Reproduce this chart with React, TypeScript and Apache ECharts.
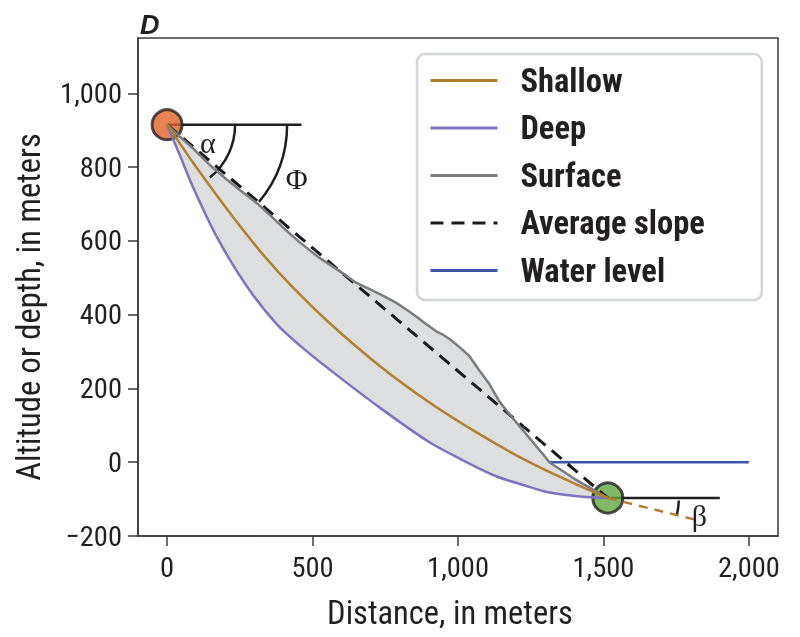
import React, { useEffect, useRef } from "react";
import * as echarts from "echarts";

// ---- Data (metres) ----
const xTicks = [0, 500, 1000, 1500, 2000];
const yTicks = [-200, 0, 200, 400, 600, 800, 1000];

const startPoint = [[0, 915]];
const endPoint = [[1515, -97]];

const shallow = [
  [0, 915], [45, 863], [90, 811], [205, 687], [319, 573], [433, 473], [560, 376],
  [731, 261], [902, 162], [1074, 76], [1245, 0], [1420, -65], [1515, -97],
];

const deep = [
  [0, 915], [45, 830], [90, 744], [170, 612], [273, 478], [376, 375], [460, 314],
  [559, 251], [731, 148], [902, 54], [1020, 4], [1131, -38], [1230, -63],
  [1314, -82], [1420, -93], [1515, -97],
];

const surface = [
  [0, 915], [40, 885], [90, 850], [148, 805], [200, 770], [250, 738], [308, 703],
  [360, 665], [410, 628], [456, 596], [520, 556], [593, 518], [651, 486], [700, 468],
  [750, 448], [788, 432], [830, 410], [856, 395], [890, 375], [925, 355], [950, 345],
  [971, 334], [1005, 312], [1039, 288], [1074, 248], [1108, 212], [1142, 165],
  [1177, 130], [1222, 88], [1245, 66], [1280, 33], [1300, 14], [1314, 0],
  [1400, -45], [1515, -97],
];

const averageSlope = [[0, 915], [1515, -97]];
const waterLevel = [[1314, 0], [2000, 0]];
const shallowExtension = [[1515, -97], [1817, -156]];
const topReference = [[0, 915], [462, 915]];
const bottomReference = [[1515, -97], [1900, -97]];

// angle arcs: centre x, centre y, radius (px), start deg, end deg
const angleArcs = [
  [0, 915, 68, 0, 51],
  [0, 915, 120, 0, 40],
  [1515, -97, 71, 2, 14],
];
const angleLabelText = ["α", "Φ", "β"];
const angleLabelPos = [
  [140, 866],
  [446, 768],
  [1830, -145],
];

const FONT = "'Liberation Sans Narrow', 'Roboto Condensed', 'Liberation Sans', sans-serif";
const SERIF = "'Liberation Serif', 'DejaVu Serif', serif";
const TXT = "#231f20";
const AXIS = "#3a3a3a";

const fmt = (v: number) => {
  const s = Math.abs(v).toLocaleString("en-US");
  return v < 0 ? "\u2212" + s : s;
};

export default function App() {
  const ref = useRef<HTMLDivElement>(null);

  useEffect(() => {
    if (!ref.current) return;
    const chart = echarts.init(ref.current, null, { renderer: "svg" });

    const option: any = {
      animation: false,
      title: {
        text: "D",
        left: 135,
        top: 6,
        textStyle: {
          fontSize: 27,
          fontStyle: "italic",
          fontWeight: "bold",
          color: TXT,
          fontFamily: "'Liberation Sans', sans-serif",
        },
      },
      grid: {
        left: 138,
        top: 38,
        right: 22,
        bottom: 101,
        show: true,
        borderColor: AXIS,
        borderWidth: 1.5,
      },
      legend: {
        data: ["Shallow", "Deep", "Surface", "Average slope", "Water level"],
        orient: "vertical",
        left: 417,
        top: 54,
        itemWidth: 67,
        itemHeight: 14,
        itemGap: 14.5,
        padding: [10, 57, 13, 12],
        borderColor: "#d3d5d6",
        borderWidth: 2.5,
        borderRadius: 8,
        backgroundColor: "#ffffff",
        itemStyle: { opacity: 0 },
        lineStyle: { width: 3 },
        textStyle: {
          fontSize: 32.5,
          fontWeight: "bold",
          fontFamily: FONT,
          color: TXT,
          padding: [0, 0, 0, 18],
        },
      },
      xAxis: {
        type: "value",
        min: -100,
        max: 2100,
        splitLine: { show: false },
        axisLine: { show: true, onZero: false, lineStyle: { color: AXIS, width: 1.5 } },
        axisTick: {
          show: true,
          length: 10,
          customValues: xTicks,
          lineStyle: { color: AXIS, width: 1.5 },
        },
        axisLabel: {
          customValues: xTicks,
          formatter: fmt,
          fontSize: 28.5,
          color: TXT,
          fontFamily: FONT,
          margin: 17,
        },
        name: "Distance, in meters",
        nameLocation: "middle",
        nameGap: 60,
        nameTextStyle: {
          fontSize: 32.5,
          color: TXT,
          fontFamily: FONT,
          padding: [0, 16, 0, 0],
        },
      },
      yAxis: {
        type: "value",
        min: -200,
        max: 1150,
        splitLine: { show: false },
        axisLine: { show: true, onZero: false, lineStyle: { color: AXIS, width: 1.5 } },
        axisTick: {
          show: true,
          length: 10,
          customValues: yTicks,
          lineStyle: { color: AXIS, width: 1.5 },
        },
        axisLabel: {
          customValues: yTicks,
          formatter: fmt,
          fontSize: 28.5,
          color: TXT,
          fontFamily: FONT,
          margin: 16,
        },
        name: "Altitude or depth, in meters",
        nameLocation: "middle",
        nameGap: 93,
        nameTextStyle: {
          fontSize: 32.5,
          color: TXT,
          fontFamily: FONT,
          padding: [0, 40, 0, 0],
        },
      },
      series: [
        {
          name: "fill",
          type: "custom",
          silent: true,
          z: 1,
          data: [[0, 0]],
          renderItem: (params: any, api: any) => {
            if (params.dataIndex !== 0) return null;
            const pts = surface
              .map((p) => api.coord(p))
              .concat(deep.slice().reverse().map((p) => api.coord(p)));
            return {
              type: "polygon",
              shape: { points: pts },
              style: { fill: "#dcdee0", stroke: null },
            };
          },
        },
        {
          name: "topRef",
          type: "line",
          data: topReference,
          symbol: "none",
          z: 2,
          lineStyle: { color: "#1f1f1f", width: 2.5 },
        },
        {
          name: "bottomRef",
          type: "line",
          data: bottomReference,
          symbol: "none",
          z: 2,
          lineStyle: { color: "#1f1f1f", width: 2.5 },
        },
        {
          name: "Water level",
          type: "line",
          data: waterLevel,
          symbol: "none",
          z: 2,
          color: "#3b55a5",
          lineStyle: { color: "#3b55a5", width: 2.5 },
        },
        {
          name: "arcs",
          type: "custom",
          silent: true,
          z: 3,
          data: angleArcs,
          renderItem: (params: any, api: any) => {
            const c = api.coord([api.value(0), api.value(1)]);
            const r = api.value(2);
            return {
              type: "arc",
              shape: {
                cx: c[0],
                cy: c[1],
                r,
                startAngle: (api.value(3) * Math.PI) / 180,
                endAngle: (api.value(4) * Math.PI) / 180,
                clockwise: true,
              },
              style: { stroke: "#1f1f1f", lineWidth: 2.5, fill: null },
            };
          },
        },
        {
          name: "startCircle",
          type: "scatter",
          data: startPoint,
          symbolSize: 30,
          z: 4,
          itemStyle: { color: "#e0622a", borderColor: "#231f20", borderWidth: 3 },
        },
        {
          name: "endCircle",
          type: "scatter",
          data: endPoint,
          symbolSize: 30,
          z: 4,
          itemStyle: { color: "#5fa83f", borderColor: "#231f20", borderWidth: 3 },
        },
        {
          name: "Average slope",
          type: "line",
          data: averageSlope,
          symbol: "none",
          z: 5,
          color: "#1a1a1a",
          lineStyle: { color: "#1a1a1a", width: 3, type: [13, 8] },
        },
        {
          name: "Surface",
          type: "line",
          data: surface,
          symbol: "none",
          z: 6,
          color: "#7b7c7f",
          lineStyle: { color: "#7b7c7f", width: 2.5 },
        },
        {
          name: "Deep",
          type: "line",
          data: deep,
          symbol: "none",
          smooth: 0.3,
          z: 6,
          color: "#7d73bf",
          lineStyle: { color: "#7d73bf", width: 2.5 },
        },
        {
          name: "Shallow",
          type: "line",
          data: shallow,
          symbol: "none",
          smooth: 0.3,
          z: 7,
          color: "#b27f2c",
          lineStyle: { color: "#b27f2c", width: 2.5 },
        },
        {
          name: "shallowExt",
          type: "line",
          data: shallowExtension,
          symbol: "none",
          z: 7,
          lineStyle: { color: "#b27f2c", width: 2.5, type: [9, 7] },
        },
        {
          name: "angleLabels",
          type: "custom",
          silent: true,
          z: 8,
          data: angleLabelPos,
          renderItem: (params: any, api: any) => {
            const c = api.coord([api.value(0), api.value(1)]);
            return {
              type: "text",
              x: c[0],
              y: c[1],
              style: {
                text: angleLabelText[params.dataIndex],
                fontSize: 30,
                fontFamily: SERIF,
                fill: TXT,
                align: "center",
                verticalAlign: "middle",
              },
            };
          },
        },
      ],
    };

    chart.setOption(option);
    return () => chart.dispose();
  }, []);

  return (
    <div
      ref={ref}
      style={{ position: "fixed", left: 0, top: 0, width: 800, height: 637 }}
    />
  );
}
